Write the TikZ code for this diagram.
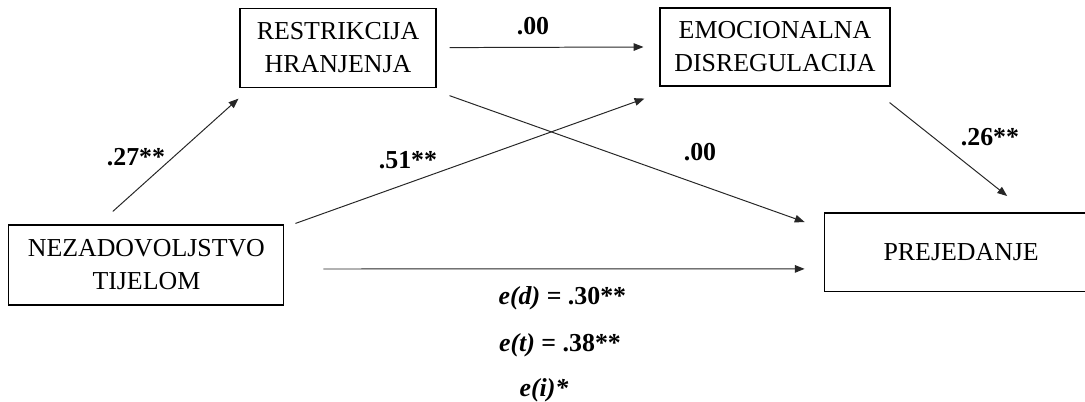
\documentclass[tikz,border=0pt]{standalone}
\usepackage{fontspec}
\setmainfont{Liberation Serif}
\usetikzlibrary{arrows.meta}

\begin{document}
\begin{tikzpicture}[
        varijabla/.style={
            rectangle,
            draw=black,
            line width=0.8pt,
            align=center,
            inner sep=0pt,
            font=\fontsize{18.4}{23.5}\selectfont
        },
        put/.style={
            -{Triangle[length=7pt,width=5.4pt]},
            line width=0.7pt,
            draw=black!85
        },
        koef/.style={
            font=\fontsize{18.4}{22}\selectfont\bfseries,
            inner sep=0pt
        }
    ]
    \useasboundingbox (0,0) rectangle (27.125,-10.05);

    % Varijable modela
    \node[varijabla, minimum width=4.9cm,  minimum height=1.975cm] (res) at (8.45,-1.19)   {RESTRIKCIJA\\HRANJENJA};
    \node[varijabla, minimum width=5.75cm, minimum height=1.95cm]  (emo) at (19.375,-1.175) {EMOCIONALNA\\DISREGULACIJA};
    \node[varijabla, minimum width=6.875cm, minimum height=2cm]    (nez) at (3.66,-6.625)  {NEZADOVOLJSTVO\\TIJELOM};
    \node[varijabla, draw=none, minimum width=6.8cm, minimum height=1.94cm] (pre) at (24.03,-6.31) {PREJEDANJE};
    % okvir odrezan desnim rubom slike
    \draw[line width=0.8pt] (pre.north east) -- (pre.north west) -- (pre.south west) -- (pre.south east);

    % Putevi
    \draw[put] ([xshift=-0.84cm,yshift=0.325cm]nez.north) -- ([xshift=-0.025cm,yshift=-0.275cm]res.south west);
    \draw[put] ([xshift=0.325cm]res.east) -- ([xshift=-0.4cm]emo.west);
    \draw[put] ([xshift=0.325cm,yshift=-0.2cm]res.south east) -- ([xshift=-0.5cm,yshift=-0.225cm]pre.north west);
    \draw[put] ([xshift=0.275cm,yshift=0.025cm]nez.north east) -- ([xshift=-0.375cm,yshift=-0.3cm]emo.south west);
    \draw[put] ([xshift=-0.025cm,yshift=-0.4cm]emo.south east) -- ([xshift=1.15cm,yshift=0.425cm]pre.north);
    \draw[put] ([xshift=0.975cm,yshift=-0.1cm]nez.east) -- ([xshift=-0.5cm,yshift=-0.4125cm]pre.west);

    % Koeficijenti
    \node[koef] (k27)  at (3.4,-3.925)   {.27**};
    \node[koef] (k51)  at (10.2,-4.0)    {.51**};
    \node[koef] (k00a) at (13.325,-0.65) {.00};
    \node[koef] (k00b) at (17.5,-3.8)    {.00};
    \node[koef] (k26)  at (24.75,-3.425) {.26**};

    % Efekti
    \node[koef] (ed) at (14.06,-7.45) {\textit{e(d)} = .30**};
    \node[koef] (et) at (14.0,-8.625) {\textit{e(t)} = .38**};
    \node[koef] (ei) at (13.6,-9.75)  {\textit{e(i)*}};

\end{tikzpicture}
\end{document}
